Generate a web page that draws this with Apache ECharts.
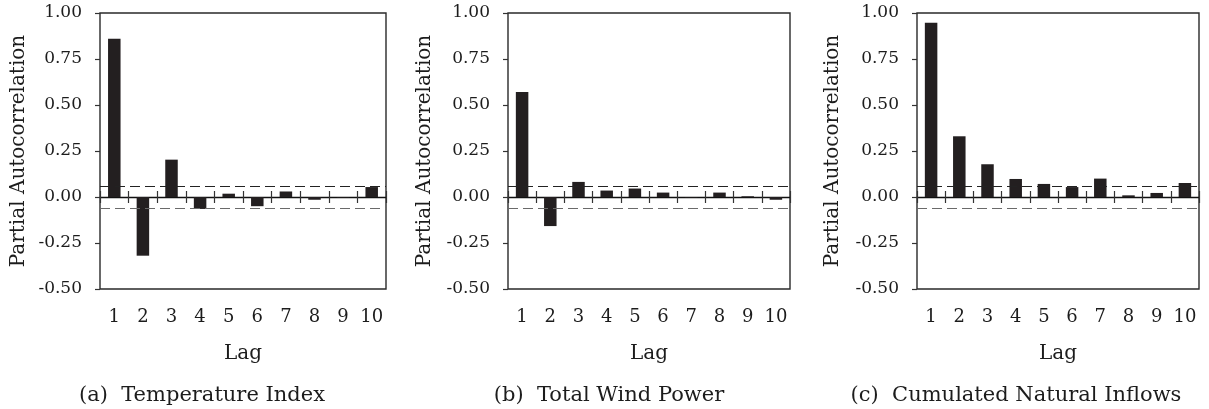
<!DOCTYPE html>
<html>
<head>
<meta charset="utf-8">
<script src="https://cdn.jsdelivr.net/npm/echarts@6/dist/echarts.min.js"></script>
<style>
html,body{margin:0;padding:0;background:#fff;}
#chart{width:1209px;height:409px;}
</style>
</head>
<body>
<div id="chart"></div>
<script>
// ---- data ----
const lags = ['1','2','3','4','5','6','7','8','9','10'];
const temperatureIndex = [0.86, -0.319, 0.203, -0.065, 0.018, -0.05, 0.03, -0.015, -0.003, 0.054];
const totalWindPower = [0.57, -0.158, 0.082, 0.035, 0.046, 0.024, -0.003, 0.024, 0.004, -0.015];
const naturalInflows = [0.947, 0.33, 0.178, 0.098, 0.071, 0.054, 0.1, 0.009, 0.022, 0.076];
const confidenceBound = 0.06;
const captions = ['(a)  Temperature Index', '(b)  Total Wind Power', '(c)  Cumulated Natural Inflows'];
const yAxisTitle = 'Partial Autocorrelation';
const xAxisTitle = 'Lag';
const yMin = -0.5, yMax = 1.0, yStep = 0.25;

// ---- layout ----
const FONT = 'DejaVu Serif';
const TXT = '#1c1c1c';
const panels = [
  {data: temperatureIndex, left: 100, width: 286, capX: 197, nameGap: 71},
  {data: totalWindPower, left: 508, width: 282, capX: 604, nameGap: 73},
  {data: naturalInflows, left: 917, width: 282, capX: 1011, nameGap: 74}
];
const gridTop = 13, gridHeight = 276;

const grid = [], xAxis = [], yAxis = [], series = [], title = [];
panels.forEach((p, k) => {
  grid.push({left: p.left, width: p.width, top: gridTop, height: gridHeight,
    show: true, borderColor: '#2a2a2a', borderWidth: 1.4, backgroundColor: 'transparent'});
  // visible y axis
  yAxis.push({gridIndex: k, type: 'value', min: yMin, max: yMax, interval: yStep,
    name: yAxisTitle, nameLocation: 'middle', nameGap: p.nameGap, nameRotate: 90,
    nameTextStyle: {fontFamily: FONT, fontSize: 20, color: TXT},
    axisLine: {show: false},
    axisTick: {show: true, length: 5, lineStyle: {color: '#333', width: 1.2}},
    axisLabel: {margin: 18, fontFamily: FONT, fontSize: 17, color: TXT,
      formatter: v => v.toFixed(2)},
    splitLine: {show: false}});
  // hidden twin y axis (for second on-zero x axis)
  yAxis.push({gridIndex: k, type: 'value', min: yMin, max: yMax, interval: yStep, show: false,
    splitLine: {show: false}});
  // label axis at bottom
  xAxis.push({gridIndex: k, type: 'category', data: lags, position: 'bottom',
    axisLine: {show: false, onZero: false}, axisTick: {show: false},
    axisLabel: {interval: 0, hideOverlap: false, margin: 19, fontFamily: FONT, fontSize: 18, color: TXT},
    name: xAxisTitle, nameLocation: 'middle', nameGap: 55,
    nameTextStyle: {fontFamily: FONT, fontSize: 20, color: TXT}});
  // zero line with downward ticks
  xAxis.push({gridIndex: k, type: 'category', data: lags, position: 'bottom',
    axisLine: {show: true, onZero: true, onZeroAxisIndex: 2 * k, lineStyle: {color: '#111', width: 1.3}},
    axisTick: {show: true, interval: 0, length: 6, lineStyle: {color: '#333', width: 1.2}},
    axisLabel: {show: false}});
  // upward ticks at zero
  xAxis.push({gridIndex: k, type: 'category', data: lags, position: 'top',
    axisLine: {show: false, onZero: true, onZeroAxisIndex: 2 * k + 1},
    axisTick: {show: true, interval: 0, length: 6, lineStyle: {color: '#333', width: 1.2}},
    axisLabel: {show: false}});
  series.push({type: 'bar', xAxisIndex: 3 * k, yAxisIndex: 2 * k, data: p.data,
    barWidth: 12.5, itemStyle: {color: '#231f20'}, silent: true,
    markLine: {silent: true, symbol: 'none', label: {show: false},
      data: [
        {yAxis: confidenceBound, lineStyle: {color: '#222', type: [10, 5], width: 1.2}},
        {yAxis: -confidenceBound, lineStyle: {color: '#6a6a6a', type: [10, 5], width: 1.2}}
      ]}});
  title.push({text: captions[k], left: p.capX, top: 380, textAlign: 'center',
    textStyle: {fontFamily: FONT, fontSize: 21, fontWeight: 'normal', color: TXT}});
});

const chart = echarts.init(document.getElementById('chart'), null, {renderer: 'canvas'});
chart.setOption({animation: false, backgroundColor: '#fff', title, grid, xAxis, yAxis, series});
</script>
</body>
</html>
